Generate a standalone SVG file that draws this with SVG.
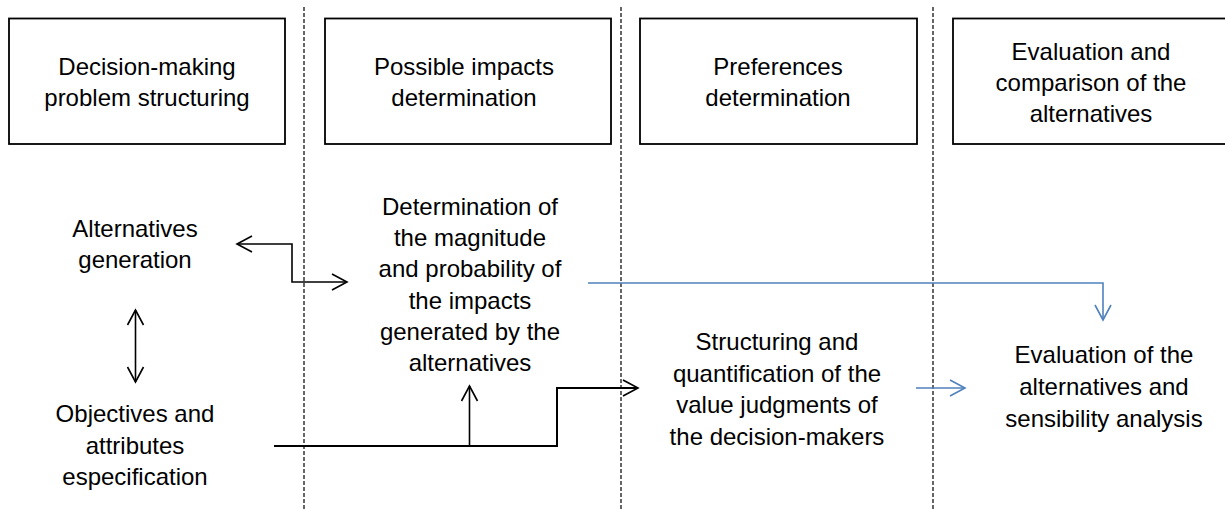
<svg xmlns="http://www.w3.org/2000/svg" width="1225" height="509" viewBox="0 0 1225 509">
<defs>
<style>
.box{fill:#fff;stroke:#000;stroke-width:1.8}
.t{font-family:"Liberation Sans",Arial,sans-serif;font-size:24px;fill:#000;text-anchor:middle}
.sep{stroke:#000;stroke-width:1.2;stroke-dasharray:4 2;fill:none}
.blk{stroke:#000;stroke-width:1.6;fill:none}
.blu{stroke:#4F81BD;stroke-width:1.6;fill:none}
</style>
<marker id="ab" markerUnits="userSpaceOnUse" markerWidth="20" markerHeight="20" refX="0" refY="0" viewBox="-17 -10 20 20" orient="auto-start-reverse" overflow="visible">
<path d="M-15,-8 L0,0 L-15,8" fill="none" stroke="#000" stroke-width="1.6"/>
</marker>
<marker id="au" markerUnits="userSpaceOnUse" markerWidth="20" markerHeight="20" refX="0" refY="0" viewBox="-17 -10 20 20" orient="auto-start-reverse" overflow="visible">
<path d="M-15,-8 L0,0 L-15,8" fill="none" stroke="#4F81BD" stroke-width="1.6"/>
</marker>
</defs>
<rect width="1225" height="509" fill="#fff"/>
<g id="separators">
<line class="sep" x1="304" y1="7" x2="304" y2="509"/>
<line class="sep" x1="621" y1="7" x2="621" y2="509"/>
<line class="sep" x1="933" y1="7" x2="933" y2="509"/>
</g>
<g id="phase1">
<rect class="box" x="9" y="18.5" width="276" height="125.5"/>
<text class="t" x="147" y="75">Decision-making</text>
<text class="t" x="147" y="106">problem structuring</text>
</g>
<g id="phase2">
<rect class="box" x="325" y="18.5" width="286" height="125.5"/>
<text class="t" x="464" y="75">Possible impacts</text>
<text class="t" x="464" y="106">determination</text>
</g>
<g id="phase3">
<rect class="box" x="640" y="18.5" width="277" height="125.5"/>
<text class="t" x="778" y="75">Preferences</text>
<text class="t" x="778" y="106">determination</text>
</g>
<g id="phase4">
<rect class="box" x="953" y="18.5" width="280" height="125.5"/>
<text class="t" x="1091" y="60">Evaluation and</text>
<text class="t" x="1091" y="91">comparison of the</text>
<text class="t" x="1091" y="122">alternatives</text>
</g>
<g id="alternatives">
<text class="t" x="135" y="237">Alternatives</text>
<text class="t" x="135" y="268">generation</text>
</g>
<g id="objectives">
<text class="t" x="135" y="422">Objectives and</text>
<text class="t" x="135" y="453.5">attributes</text>
<text class="t" x="135" y="485">especification</text>
</g>
<g id="impacts">
<text class="t" x="470" y="214.5">Determination of</text>
<text class="t" x="470" y="245.5">the magnitude</text>
<text class="t" x="470" y="277">and probability of</text>
<text class="t" x="470" y="308.5">the impacts</text>
<text class="t" x="470" y="340">generated by the</text>
<text class="t" x="470" y="371">alternatives</text>
</g>
<g id="values">
<text class="t" x="777" y="350">Structuring and</text>
<text class="t" x="777" y="382">quantification of the</text>
<text class="t" x="777" y="413">value judgments of</text>
<text class="t" x="777" y="445">the decision-makers</text>
</g>
<g id="evaluation">
<text class="t" x="1104" y="363">Evaluation of the</text>
<text class="t" x="1104" y="395">alternatives and</text>
<text class="t" x="1104" y="427">sensibility analysis</text>
</g>
<g id="connectors">
<polyline class="blk" points="237,244 292,244 292,282 347,282" marker-start="url(#ab)" marker-end="url(#ab)"/>
<line class="blk" x1="135.5" y1="310" x2="135.5" y2="382" marker-start="url(#ab)" marker-end="url(#ab)"/>
<polyline class="blk" points="274,446 557,446 557,388 638,388" marker-end="url(#ab)" style="stroke-width:2"/>
<line class="blk" x1="469.5" y1="446" x2="469.5" y2="386" marker-end="url(#ab)"/>
<polyline class="blu" points="588,283 1103,283 1103,320" marker-end="url(#au)"/>
<line class="blu" x1="916" y1="388" x2="965" y2="388" marker-end="url(#au)"/>
</g>
</svg>
